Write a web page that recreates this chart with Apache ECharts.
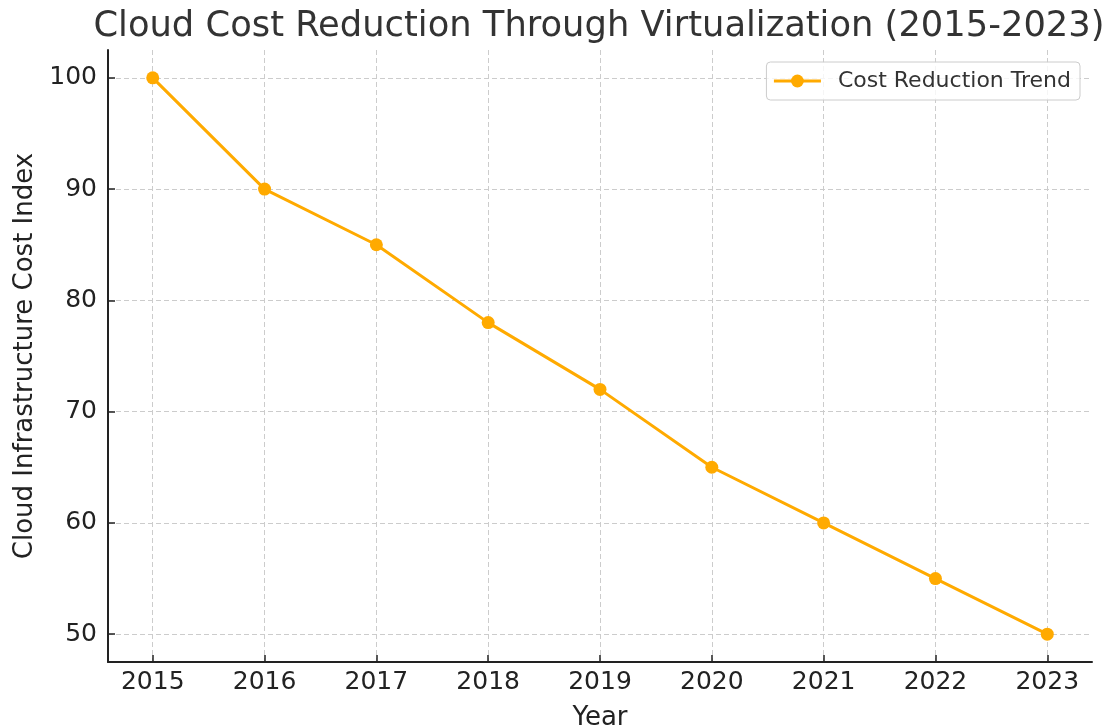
<!DOCTYPE html>
<html>
<head>
<meta charset="utf-8">
<script src="https://cdn.jsdelivr.net/npm/echarts@6/dist/echarts.min.js"></script>
<style>html,body{margin:0;padding:0;background:#fff}#c{width:1107px;height:727px}</style>
</head>
<body>
<div id="c"></div>
<script>
const years = [2015, 2016, 2017, 2018, 2019, 2020, 2021, 2022, 2023];
const costIndex = [100, 90, 85, 78, 72, 65, 60, 55, 50];
const yTicks = [50, 60, 70, 80, 90, 100];
const seriesName = 'Cost Reduction Trend';
const titleText = 'Cloud Cost Reduction Through Virtualization (2015-2023)';

const FONT = 'DejaVu Sans';
const chart = echarts.init(document.getElementById('c'), null, {renderer: 'canvas'});
const gridLine = {show: true, lineStyle: {color: '#cccccc', type: [5, 3], width: 1}};
chart.setOption({
  animation: false,
  backgroundColor: '#fff',
  title: {
    text: titleText, left: 594, textAlign: 'center', top: 4,
    textStyle: {fontFamily: FONT, fontSize: 35.3, fontWeight: 'normal', color: '#333'}
  },
  legend: {
    data: [seriesName], right: 27, top: 62,
    padding: [8, 9, 8, 6],
    itemWidth: 47, itemHeight: 16,
    borderColor: '#cccccc', borderWidth: 1, borderRadius: 4,
    backgroundColor: 'rgba(255,255,255,0.8)',
    lineStyle: {width: 3},
    textStyle: {fontFamily: FONT, fontSize: 22, color: '#333', padding: [0, 0, 0, 12]}
  },
  grid: {left: 108, right: 15, top: 50, bottom: 65, containLabel: false, outerBoundsMode: 'none'},
  xAxis: {
    type: 'value', min: 2014.6, max: 2023.4,
    name: 'Year', nameLocation: 'middle', nameGap: 43,
    nameTextStyle: {fontFamily: FONT, fontSize: 26, color: '#222'},
    axisLine: {show: true, onZero: false, lineStyle: {color: '#222', width: 2}},
    axisTick: {show: true, inside: true, length: 7, customValues: years, lineStyle: {color: '#222', width: 1.5}},
    axisLabel: {customValues: years, margin: 8, fontFamily: FONT, fontSize: 25, color: '#222', formatter: v => String(v)},
    splitLine: gridLine
  },
  yAxis: {
    type: 'value', min: 47.5, max: 102.5,
    name: 'Cloud Infrastructure Cost Index', nameLocation: 'middle', nameGap: 70,
    nameTextStyle: {fontFamily: FONT, fontSize: 26, color: '#222'},
    axisLine: {show: true, lineStyle: {color: '#222', width: 2}},
    axisTick: {show: true, inside: true, length: 7, customValues: yTicks, lineStyle: {color: '#222', width: 1.5}},
    axisLabel: {customValues: yTicks, margin: 11, fontFamily: FONT, fontSize: 25, color: '#222'},
    splitLine: gridLine
  },
  series: [{
    name: seriesName, type: 'line',
    data: years.map((y, i) => [y, costIndex[i]]),
    symbol: 'circle', symbolSize: 13,
    itemStyle: {color: '#FFAA00'},
    lineStyle: {color: '#FFAA00', width: 3}
  }]
});
</script>
</body>
</html>
